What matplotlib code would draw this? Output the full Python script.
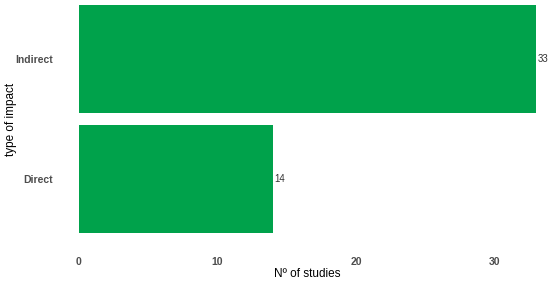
import matplotlib
matplotlib.use("Agg")
import matplotlib.pyplot as plt

categories = ["Direct", "Indirect"]
studies = [14, 33]

plt.rcParams["font.family"] = ["Liberation Sans", "DejaVu Sans"]

fig = plt.figure(figsize=(5.5, 2.83), dpi=100)
ax = fig.add_axes([79 / 550, 50 / 283, 457 / 550, 228 / 283])

ypos = list(range(1, len(categories) + 1))
ax.barh(ypos, studies, height=0.9, color="#00A24B")
for y, v in zip(ypos, studies):
    ax.text(v + 0.1, y, str(v), va="center", ha="left", fontsize=7,
            color="#333333", clip_on=False)

ax.set_xlim(0, 33)
ax.set_ylim(0.55, 2.45)
ax.set_xticks([0, 10, 20, 30])
ax.set_yticks(ypos)
ax.set_yticklabels(categories)
for lab in ax.get_xticklabels() + ax.get_yticklabels():
    lab.set_fontweight("bold")
    lab.set_color("#4d4d4d")
ax.tick_params(axis="x", length=0, pad=17, labelsize=7.5)
ax.tick_params(axis="y", length=0, pad=19, labelsize=7.5)
for s in ax.spines.values():
    s.set_visible(False)

fig.text(307 / 550, 1 - 274 / 283, "Nº of studies", fontsize=8.5,
         ha="center", va="center")
fig.text(11 / 550, 1 - 119 / 283, "type of impact", fontsize=8.5,
         ha="center", va="center", rotation=90)

fig.savefig("out.png", dpi=100)
